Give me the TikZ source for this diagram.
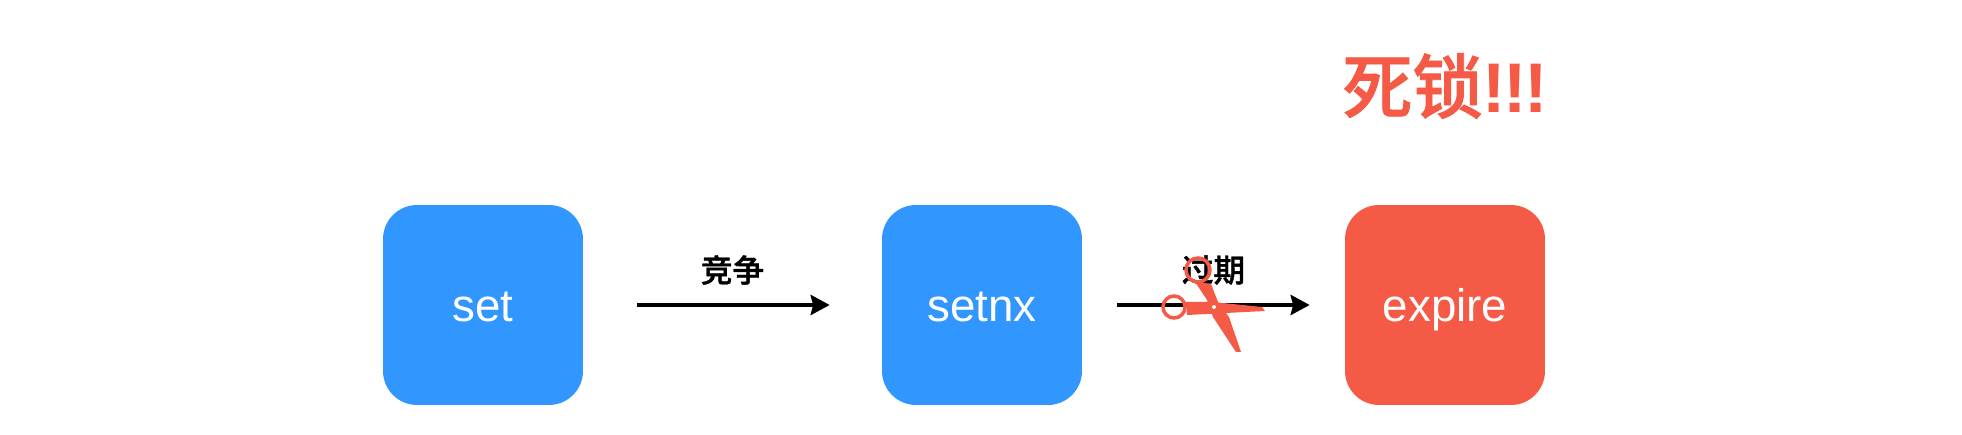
\documentclass[tikz,border=0pt]{standalone}
\usepackage{fontspec}
\usepackage{tikz}
\usetikzlibrary{arrows.meta}
\setmainfont{Liberation Sans}
\newfontfamily\cjk[FakeBold=1.2]{Noto Sans CJK SC Medium}
\definecolor{boxblue}{HTML}{3296FF}
\definecolor{boxred}{HTML}{F55A46}
\tikzset{
    opbox/.style={rounded corners=0.68cm,minimum size=4cm,inner sep=0pt,text height=0.68cm,text depth=0pt,text=white,font=\fontsize{26}{30}\selectfont},
    flow/.style={line width=0.08cm,-{Stealth[length=0.38cm,width=0.4cm,inset=0.05cm]}},
    flowlabel/.style={font=\cjk\fontsize{18}{20}\selectfont,inner sep=0pt}
}

\begin{document}
\begin{tikzpicture}[x=0.02cm,y=-0.02cm]
    \useasboundingbox (0,0) rectangle (1962,435);
    \node[opbox,fill=boxblue] (set) at (483,305) {set};
    \node[opbox,fill=boxblue] (setnx) at (982,305) {setnx};
    \node[opbox,fill=boxred] (expire) at (1445,305) {expire};
    \node[text=boxred,inner sep=0pt,font=\fontsize{40}{44}\selectfont] (deadlock) at (1445,86) {{\cjk 死锁}\bfseries!\kern-1.5pt!\kern-1.5pt!};
    \draw[flow,shorten <=1.08cm,shorten >=1.04cm] (set) -- node[flowlabel,yshift=0.7cm] (race) {竞争} (setnx);
    \draw[flow,shorten <=0.7cm,shorten >=0.7cm] (setnx) -- node[flowlabel,yshift=0.7cm] (timeout) {过期} (expire);
    % scissors
    \draw[boxred,line width=0.07cm] (1174,307) circle (11) (1198,270) circle (12);
    \fill[boxred] (1186,302) -- (1213,302) -- (1262,307) -- (1265,311) -- (1187,315) -- cycle;
    \fill[boxred] (1195,282) -- (1211,284) -- (1218,302) -- (1229,317) -- (1241,352) -- (1236,352) -- (1213,317) -- (1207,300) -- cycle;
    \fill[white] (1214,307) circle (2);
\end{tikzpicture}
\end{document}
